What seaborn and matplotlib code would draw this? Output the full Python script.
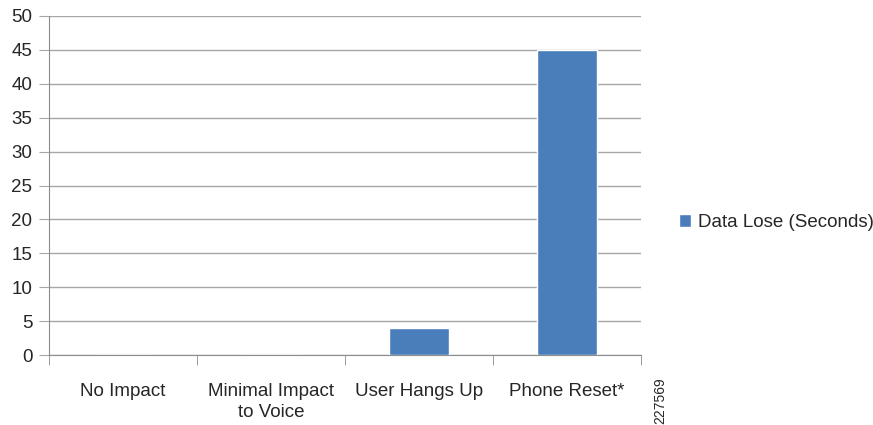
import pandas as pd
import matplotlib
matplotlib.use("Agg")
import matplotlib.pyplot as plt
import seaborn as sns
from matplotlib.ticker import FixedLocator

categories = ["No Impact", "Minimal Impact\nto Voice", "User Hangs Up", "Phone Reset*"]
values = [0, 0, 4, 45]
series_name = "Data Lose (Seconds)"
y_ticks = [0, 5, 10, 15, 20, 25, 30, 35, 40, 45, 50]

df = pd.DataFrame({"category": categories, "value": values, "series": series_name})

sns.set_style("white")
plt.rcParams["font.family"] = ["Liberation Sans", "DejaVu Sans"]

fig = plt.figure(figsize=(8.73, 4.25), dpi=100)
ax = fig.add_axes([49 / 873, 1 - 355 / 425, (641 - 49) / 873, (355 - 16) / 425])

sns.barplot(data=df, x="category", y="value", hue="series", palette=["#4a7ebb"],
            saturation=1, width=0.4, ax=ax, zorder=3)

ax.set_xlim(-0.5, len(categories) - 0.5)
ax.set_ylim(0, 50)
ax.set_yticks(y_ticks)
ax.yaxis.grid(True, color="#a6a6a6", linewidth=1, zorder=0)
ax.set_axisbelow(True)

for s in ["top", "right"]:
    ax.spines[s].set_visible(False)
ax.spines["left"].set_color("#8c8c8c")
ax.spines["bottom"].set_color("#8c8c8c")

ax.tick_params(axis="y", length=7, color="#a6a6a6", labelsize=13.5, pad=5, left=True)
ax.tick_params(axis="x", which="major", length=0, labelsize=13.5, pad=20)
ax.xaxis.set_minor_locator(FixedLocator([-0.5, 0.5, 1.5, 2.5, 3.5]))
ax.tick_params(axis="x", which="minor", length=7, color="#8c8c8c", bottom=True)
for lbl in ax.get_xticklabels():
    lbl.set_linespacing(1.3)
ax.set_xlabel("")
ax.set_ylabel("")

ax.legend(loc="center left", bbox_to_anchor=(1.035, 0.39), frameon=False,
          fontsize=13.5, handlelength=0.65, handleheight=0.65, handletextpad=0.4)

fig.text(660 / 873, 1 - 401 / 425, "227569", rotation=90, fontsize=10,
         ha="center", va="center")

fig.savefig("out.png", dpi=100)
